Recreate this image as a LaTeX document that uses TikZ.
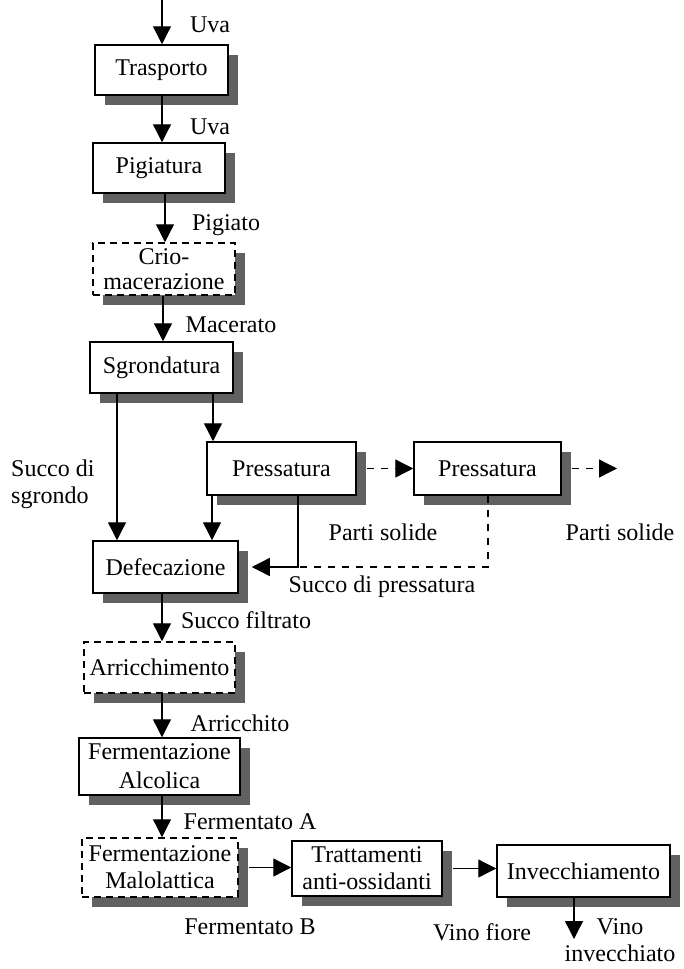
\documentclass[tikz,border=0pt]{standalone}
\usepackage{fontspec}
\setmainfont{Liberation Serif}
\usetikzlibrary{arrows.meta,shadows}
\begin{document}
\begin{tikzpicture}[x=1pt,y=-1pt,
  font=\fontsize{24}{27}\selectfont,
  box/.style={draw, line width=1.5pt, fill=white, align=center, inner sep=0pt,
    drop shadow={shadow xshift=10pt, shadow yshift=-10pt, fill=black!62, opacity=1}},
  dbox/.style={box, dash pattern=on 7pt off 5pt},
  arr/.style={line width=1.3pt, -{Triangle[width=18pt,length=18pt]}},
  darr/.style={arr, dash pattern=on 7pt off 7pt},
  dline/.style={line width=1.3pt, dash pattern=on 7pt off 7pt},
  lbl/.style={inner sep=0pt, align=center}]
\useasboundingbox (0,0) rectangle (683,969);
\fill[white] (0,0) rectangle (683,969);

% boxes
\node[box, minimum width=133pt, minimum height=50pt] (tra) at (161.5,70) {Trasporto};
\node[box, minimum width=132pt, minimum height=50pt] (pig) at (159,168) {Pigiatura};
\node[dbox, minimum width=142pt, minimum height=52pt, font=\fontsize{24}{25}\selectfont] (crio) at (164,269) {Crio-\\macerazione};
\node[box, minimum width=143pt, minimum height=51pt] (sgr) at (161.5,367.5) {Sgrondatura};
\node[box, minimum width=149pt, minimum height=53pt] (p1) at (281.5,468.5) {Pressatura};
\node[box, minimum width=147pt, minimum height=53pt] (p2) at (487.5,468.5) {Pressatura};
\node[box, minimum width=145pt, minimum height=52pt] (def) at (165.5,567) {Defecazione};
\node[dbox, minimum width=151pt, minimum height=51pt] (arr) at (159.5,667.5) {Arricchimento};
\node[box, minimum width=161pt, minimum height=57pt, font=\fontsize{24}{29}\selectfont] (fa) at (159.5,766.5) {Fermentazione\\Alcolica};
\node[dbox, minimum width=156pt, minimum height=59pt] (malo) at (160,867.5) {Fermentazione\\Malolattica};
\node[box, minimum width=150pt, minimum height=55pt] (tra2) at (367,868.5) {Trattamenti\\anti-ossidanti};
\node[box, minimum width=173pt, minimum height=52pt] (inv) at (583.5,871) {Invecchiamento};

% labels
\node[lbl] (l1) at (210,25) {Uva};
\node[lbl] (l2) at (210,127) {Uva};
\node[lbl] (l3) at (226,225) {Pigiato};
\node[lbl] (l4) at (231,325) {Macerato};
\node[lbl, align=left, anchor=west] (l5) at (11,484) {Succo di\\sgrondo};
\node[lbl] (l6) at (383,532) {Parti solide};
\node[lbl] (l7) at (620,532) {Parti solide};
\node[lbl] (l8) at (382,587) {Succo di pressatura};
\node[lbl] (l9) at (246,620) {Succo filtrato};
\node[lbl] (l10) at (240,723) {Arricchito};
\node[lbl] (l11) at (250,822) {Fermentato A};
\node[lbl] (l12) at (250,927) {Fermentato B};
\node[lbl] (l13) at (482,932) {Vino fiore};
\node[lbl, font=\fontsize{24}{27}\selectfont] (l14) at (620,940) {Vino\\invecchiato};

% connectors
\coordinate (a1) at (162,0);
\draw[arr] (a1) -- (a1 |- tra.north);
\path ([xshift=0.5pt]tra.south) coordinate (a2);
\draw[arr] (a2) -- (a2 |- pig.north);
\path ([xshift=6pt]pig.south) coordinate (a3);
\draw[arr] (a3) -- (a3 |- crio.north);
\path ([xshift=-1pt]crio.south) coordinate (a4);
\draw[arr] (a4) -- (a4 |- sgr.north);
\path ([xshift=-44.5pt]sgr.south) coordinate (a5);
\draw[arr] (a5) -- (a5 |- def.north);
\path ([xshift=51.5pt]sgr.south) coordinate (a6);
\draw[arr] (a6) -- (a6 |- p1.north);
\path ([xshift=-69.5pt]p1.south) coordinate (a7);
\draw[arr] (a7) -- (a7 |- def.north);
\path ([xshift=16.5pt]p1.south) coordinate (a8);
\draw[arr] (a8) |- ([xshift=13pt]def.east);
\path ([xshift=0.5pt]p2.south) coordinate (a9);
\draw[dline] (a9) |- (a8 |- def.east);
\draw[darr] ([xshift=10pt]p1.east) -- (p2.west);
\coordinate (o1) at (617,468.5);
\draw[darr] ([xshift=10pt]p2.east) -- (o1);
\path ([xshift=-3.5pt]def.south) coordinate (a10);
\draw[arr] (a10) -- (a10 |- arr.north);
\path ([xshift=2.5pt]arr.south) coordinate (a11);
\draw[arr] (a11) -- (a11 |- fa.north);
\path ([xshift=2.5pt]fa.south) coordinate (a12);
\draw[arr] (a12) -- (a12 |- malo.north);
\path ([xshift=10pt]malo.east) coordinate (b1);
\draw[arr] (b1) -- (b1 -| tra2.west);
\path ([xshift=10pt]tra2.east) coordinate (b2);
\draw[arr] (b2) -- (b2 -| inv.west);
\path ([xshift=-9.5pt]inv.south) coordinate (a13);
\coordinate (o2) at (574,939);
\draw[arr] (a13) -- (o2);
\end{tikzpicture}
\end{document}
